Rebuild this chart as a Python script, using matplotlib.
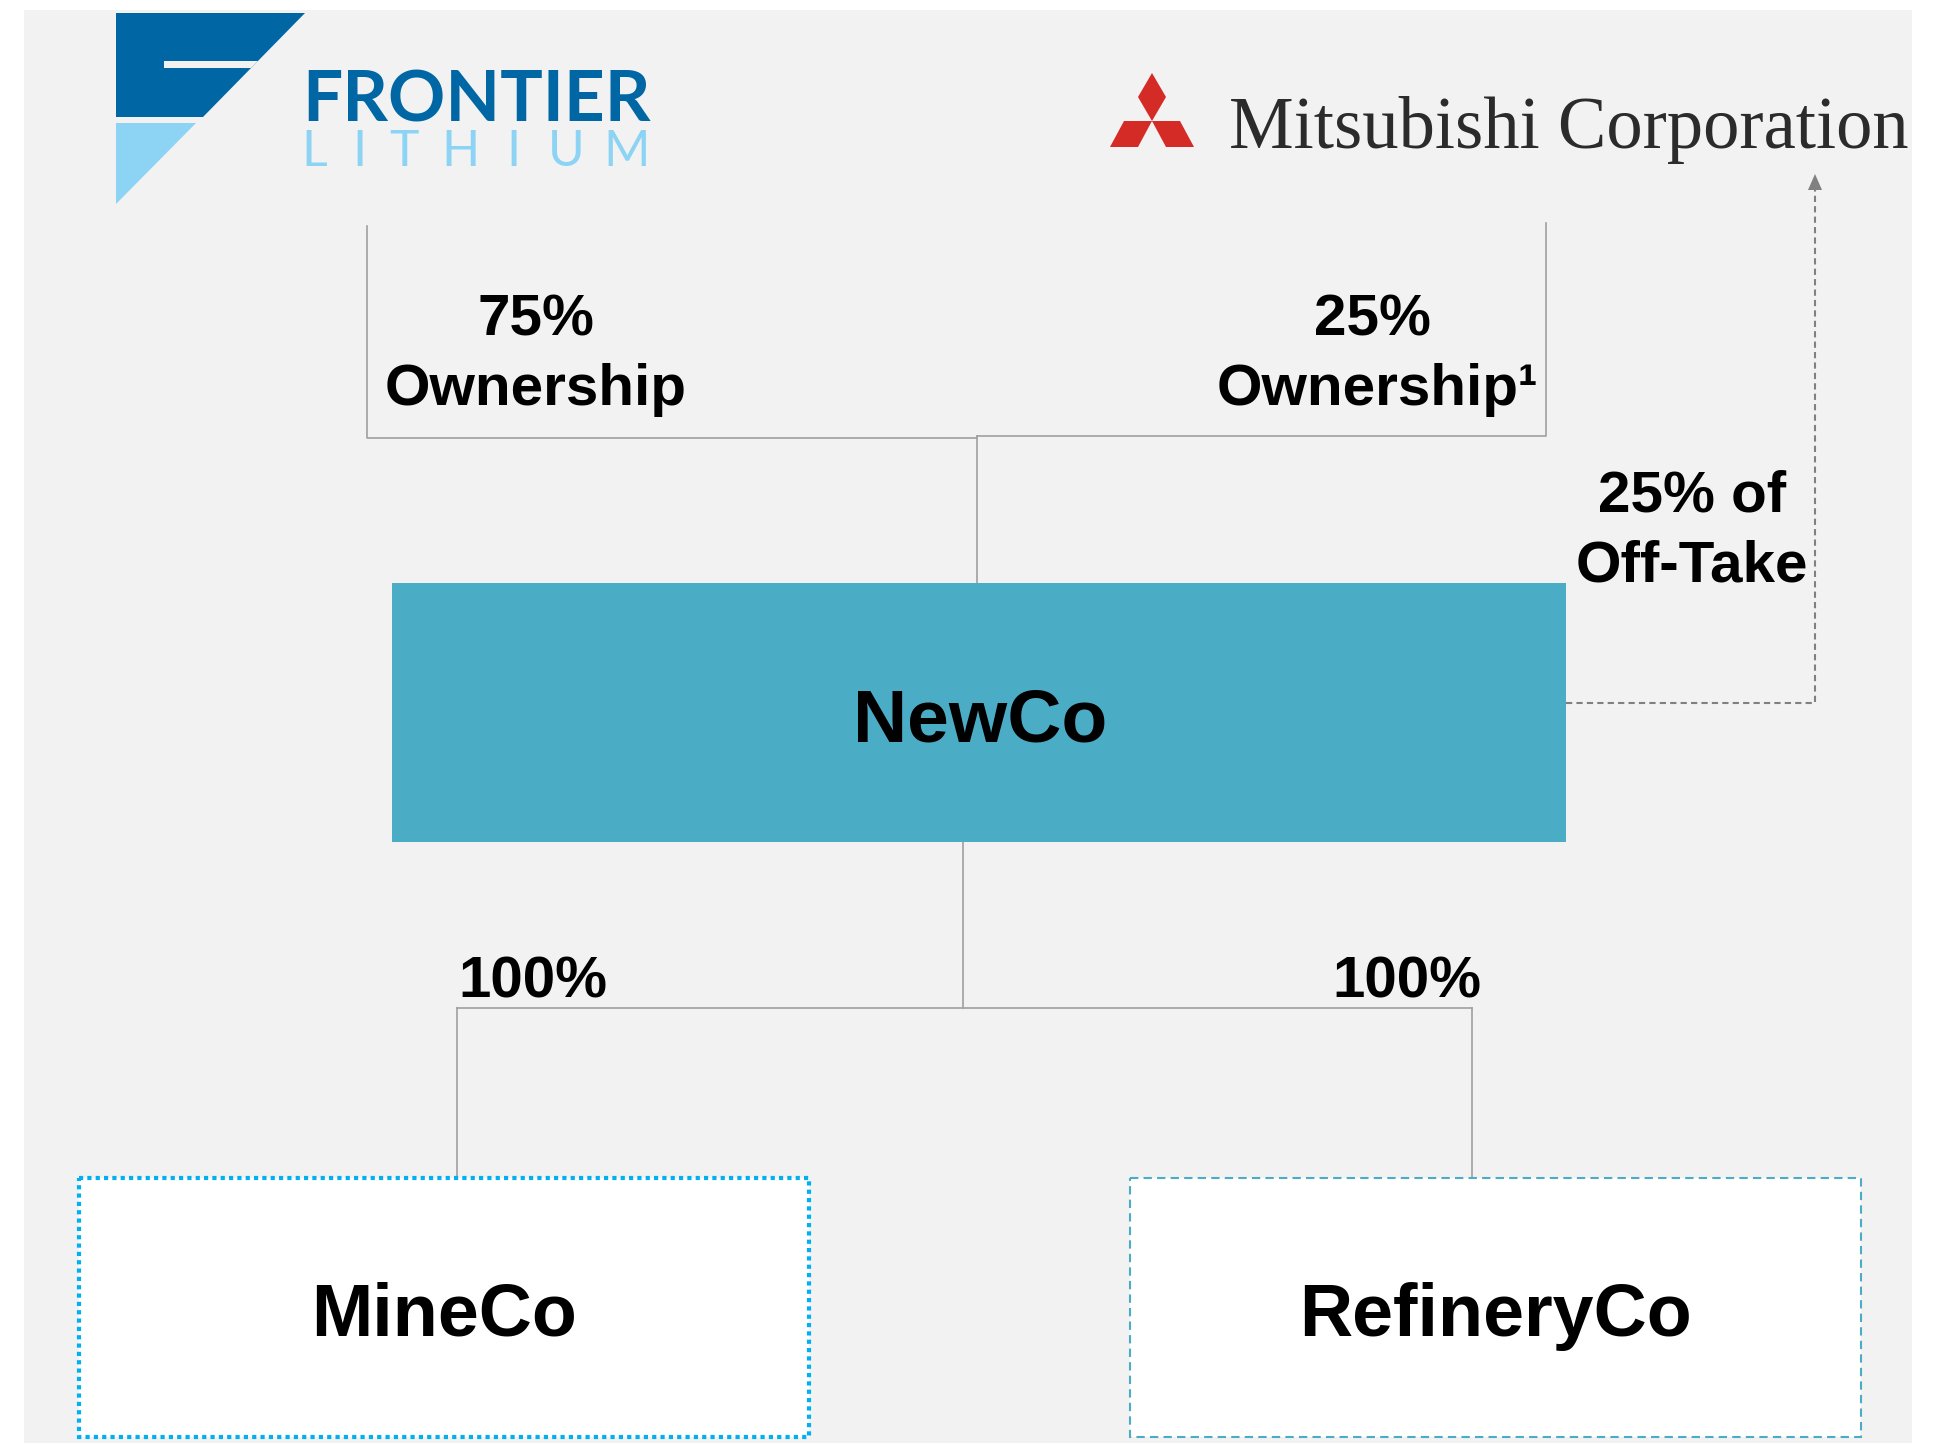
import matplotlib
matplotlib.use("Agg")
import matplotlib.pyplot as plt
from matplotlib.patches import Rectangle, Polygon

# ---- content ----
owners = ["FRONTIER", "LITHIUM", "Mitsubishi Corporation"]
owner_pct = ["75%", "25%"]
owner_word = ["Ownership", "Ownership\u00b9"]
entities = ["NewCo", "MineCo", "RefineryCo"]
sub_pct = ["100%", "100%"]
offtake = ["25% of", "Off-Take"]

W, H = 1951, 1443
fig = plt.figure(figsize=(W / 100, H / 100), dpi=100)
ax = fig.add_axes([0, 0, 1, 1])
ax.set_xlim(0, W)
ax.set_ylim(H, 0)
ax.axis("off")
fig.patch.set_facecolor("white")

# background panel
ax.add_patch(Rectangle((24, 10), 1888, 1433, facecolor="#F2F2F2", edgecolor="none", zorder=0))

renderer = fig.canvas.get_renderer()

def fit_text(x0, x1, y, s, **kw):
    t = ax.text(x0, y, s, ha="left", va="baseline", fontsize=50, **kw)
    bb = t.get_window_extent(renderer)
    t.set_fontsize(50 * (x1 - x0) / bb.width)
    return t

# ---- Frontier Lithium logo ----
dark = "#0066A4"
light = "#8DD4F4"
ax.add_patch(Polygon([(116, 13), (305, 13), (203, 117), (116, 117)], closed=True,
                     facecolor=dark, edgecolor="none", zorder=2))
ax.add_patch(Polygon([(164, 61), (258, 61), (251, 68), (164, 68)], closed=True,
                     facecolor="#F2F2F2", edgecolor="none", zorder=3))
ax.add_patch(Polygon([(116, 123), (196, 123), (116, 204)], closed=True,
                     facecolor=light, edgecolor="none", zorder=2))
fit_text(302, 650, 122, owners[0], color=dark, family=["Lato", "DejaVu Sans"], fontweight="bold")
lith_x = [314, 359, 404, 460, 513, 566, 627]
for ch, x in zip(owners[1], lith_x):
    ax.text(x, 166, ch, ha="center", va="baseline", fontsize=36, color=light,
            family=["Lato", "DejaVu Sans"], fontweight="normal")

# ---- Mitsubishi logo ----
red = "#D52B27"
ax.add_patch(Polygon([(1152, 73), (1166, 97), (1152, 121), (1138, 97)], facecolor=red, edgecolor="none"))
ax.add_patch(Polygon([(1124, 121), (1152, 121), (1138, 147), (1110, 147)], facecolor=red, edgecolor="none"))
ax.add_patch(Polygon([(1152, 121), (1180, 121), (1194, 147), (1166, 147)], facecolor=red, edgecolor="none"))
fit_text(1229, 1910, 148, owners[2], color="#2B2B2B", family=["Liberation Serif", "DejaVu Serif"])

# ---- connector lines ----
lc = "#A0A0A0"
lw = 1.2
ax.plot([367, 367, 977], [226, 438, 438], color=lc, lw=lw, zorder=1)
ax.plot([1546, 1546, 977], [223, 436, 436], color=lc, lw=lw, zorder=1)
ax.plot([977, 977], [436, 583], color=lc, lw=lw, zorder=1)
ax.plot([963, 963], [842, 1008], color=lc, lw=lw, zorder=1)
ax.plot([457, 1472], [1008, 1008], color=lc, lw=lw, zorder=1)
ax.plot([457, 457], [1008, 1178], color=lc, lw=lw, zorder=1)
ax.plot([1472, 1472], [1008, 1178], color=lc, lw=lw, zorder=1)

# ---- off-take dashed arrow ----
ac = "#808080"
ax.plot([1566, 1815, 1815], [703, 703, 190], color=ac, lw=1.5, dashes=(3, 2), zorder=1)
ax.add_patch(Polygon([(1815, 174), (1808, 190), (1822, 190)], facecolor=ac, edgecolor="none"))

# ---- text labels ----
bold = dict(family=["Liberation Sans", "DejaVu Sans"], fontweight="bold", color="black",
            ha="center", va="baseline")
ax.text(536, 335, owner_pct[0], fontsize=42, **bold)
ax.text(536, 405, owner_word[0], fontsize=42, **bold)
ax.text(1372, 335, owner_pct[1], fontsize=42, **bold)
ax.text(1377, 405, owner_word[1], fontsize=42, **bold)
ax.text(1692, 511, offtake[0], fontsize=42, **bold)
ax.text(1692, 581, offtake[1], fontsize=42, **bold)
ax.text(533, 998, sub_pct[0], fontsize=42, **bold)
ax.text(1407, 998, sub_pct[1], fontsize=42, **bold)

# ---- boxes ----
ax.add_patch(Rectangle((392, 583), 1566 - 392, 842 - 583, facecolor="#4BACC6", edgecolor="none", zorder=2))
ax.text(980, 741, entities[0], fontsize=54, zorder=3, **bold)

ax.add_patch(Rectangle((79, 1178), 809 - 79, 1437 - 1178, facecolor="white", edgecolor="#00B0F0",
                       lw=3, linestyle=(0, (1, 1)), zorder=2))
ax.text(444, 1336, entities[1], fontsize=53, zorder=3, **bold)

ax.add_patch(Rectangle((1130, 1178), 1861 - 1130, 1437 - 1178, facecolor="white", edgecolor="#4BACC6",
                       lw=1.5, linestyle=(0, (4, 2.5)), zorder=2))
ax.text(1496, 1336, entities[2], fontsize=53, zorder=3, **bold)

fig.savefig("out.png", dpi=100, facecolor="white")
